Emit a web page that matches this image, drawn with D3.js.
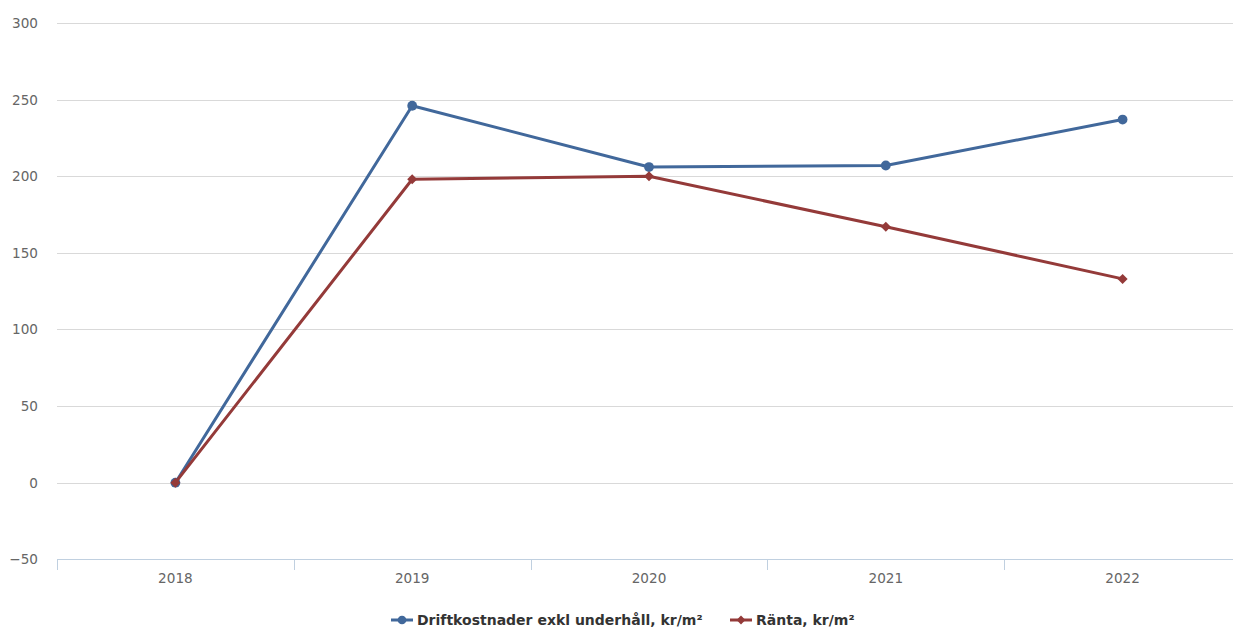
<!DOCTYPE html>
<html><head><meta charset="utf-8">
<script src="https://cdn.jsdelivr.net/npm/d3@7"></script>
<style>body{margin:0;background:#fff}svg{display:block}</style>
</head><body><div id="c"></div>
<script>
const categories = ["2018","2019","2020","2021","2022"];
const drift = [0, 246, 206, 207, 237];
const ranta = [0, 198, 200, 167, 133];
const yTicks = [-50, 0, 50, 100, 150, 200, 250, 300];
const seriesNames = ["Driftkostnader exkl underhåll, kr/m²", "Ränta, kr/m²"];
const colors = ["#41689b", "#943a39"];

const W = 1233, H = 628;
const svg = d3.select("#c").append("svg").attr("width", W).attr("height", H);
const x = d3.scaleBand().domain(categories).range([57, 1241]);
const y = d3.scaleLinear().domain([-50, 300]).range([559.3, 23]);
const font = "'DejaVu Sans', Verdana, sans-serif";

// grid
svg.append("g").selectAll("line").data(yTicks.filter(d => d > -50)).join("line")
  .attr("x1", 57).attr("x2", W).attr("y1", d => Math.round(y(d)) + 0.5).attr("y2", d => Math.round(y(d)) + 0.5)
  .attr("stroke", "#d9d9d9").attr("stroke-width", 1);

// y labels
svg.append("g").selectAll("text").data(yTicks).join("text")
  .attr("x", 38).attr("y", d => y(d) + 5).attr("text-anchor", "end")
  .attr("font-family", font).attr("font-size", 13.6).attr("fill", "#666")
  .text(d => d < 0 ? "\u2212" + Math.abs(d) : d);

// x axis
const xa = svg.append("g").attr("transform", `translate(0,${Math.round(y(-50)) + 0.5})`)
  .call(d3.axisBottom(x).tickSize(0).tickSizeOuter(0).tickPadding(14));
xa.select(".domain").attr("stroke", "#c0d0e0").attr("d", `M57,0H${W}`);
xa.selectAll("text").attr("font-family", font).attr("font-size", 13.6).attr("fill", "#666");
xa.selectAll(".tick line").remove();
svg.append("g").selectAll("line").data(categories).join("line")
  .attr("x1", d => Math.round(x(d)) + 0.5).attr("x2", d => Math.round(x(d)) + 0.5)
  .attr("y1", Math.round(y(-50))).attr("y2", Math.round(y(-50)) + 11)
  .attr("stroke", "#c0d0e0");

const cx = d => x(d) + x.bandwidth() / 2;
const line = d3.line().x((d, i) => cx(categories[i])).y(d => y(d));

function drawSeries(vals, color, shape) {
  svg.append("path").datum(vals).attr("d", line).attr("fill", "none")
    .attr("stroke", color).attr("stroke-width", 3).attr("stroke-linejoin", "round");
  const sym = d3.symbol().type(shape === "circle" ? d3.symbolCircle : d3.symbolDiamond2).size(shape === "circle" ? 75 : 64);
  svg.append("g").selectAll("path").data(vals).join("path")
    .attr("transform", (d, i) => `translate(${cx(categories[i])},${y(d)})`)
    .attr("d", sym).attr("fill", color);
}
drawSeries(drift, colors[0], "circle");
drawSeries(ranta, colors[1], "diamond");

// legend
const lg = svg.append("g").attr("transform", "translate(391,620)");
const items = [{n: seriesNames[0], c: colors[0], s: "circle", x: 0}, {n: seriesNames[1], c: colors[1], s: "diamond", x: 339}];
items.forEach(it => {
  const g = lg.append("g").attr("transform", `translate(${it.x},0)`);
  g.append("line").attr("x1", 0).attr("x2", 22).attr("y1", 0).attr("y2", 0).attr("stroke", it.c).attr("stroke-width", 3);
  g.append("path").attr("transform", "translate(11,0)")
    .attr("d", d3.symbol().type(it.s === "circle" ? d3.symbolCircle : d3.symbolDiamond2).size(it.s === "circle" ? 60 : 50)).attr("fill", it.c);
  g.append("text").attr("x", 26).attr("y", 5).attr("font-family", font).attr("font-weight", "bold")
    .attr("font-size", 14).attr("fill", "#333").text(it.n);
});
</script></body></html>
